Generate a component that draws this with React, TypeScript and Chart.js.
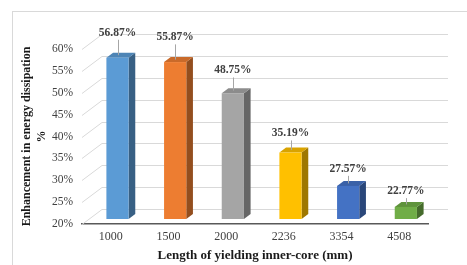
import React, { useEffect, useRef } from 'react';
import { Chart, registerables } from 'chart.js';

Chart.register(...registerables);

const categories = ['1000', '1500', '2000', '2236', '3354', '4508'];
const values = [56.87, 55.87, 48.75, 35.19, 27.57, 22.77];
const barColors = ['#5B9BD5', '#ED7D31', '#A5A5A5', '#FFC000', '#4472C4', '#70AD47'];
const yMin = 20;
const yMax = 60;
const yStep = 5;
const xTitle = 'Length of yielding inner-core (mm)';
const yTitle = ['Enhancement in energy dissipation', '%'];

const DX = 20;
const DY = -15;
const FONT = "'Liberation Serif', 'Times New Roman', serif";

function shade(hex: string, f: number): string {
  const n = parseInt(hex.slice(1), 16);
  const r = Math.round(((n >> 16) & 255) * f);
  const g = Math.round(((n >> 8) & 255) * f);
  const b = Math.round((n & 255) * f);
  return `rgb(${Math.min(255, r)},${Math.min(255, g)},${Math.min(255, b)})`;
}

const threeD = {
  id: 'threeD',
  beforeDraw(chart: any) {
    const ctx = chart.ctx;
    ctx.save();
    ctx.strokeStyle = '#d9d9d9';
    ctx.lineWidth = 1;
    ctx.strokeRect(12.5, 11.5, 600, 400);
    ctx.restore();
  },
  beforeDatasetsDraw(chart: any) {
    const ctx = chart.ctx;
    const { left, right } = chart.chartArea;
    const ys = chart.scales.y;
    ctx.save();
    // back wall gridlines + side wall diagonals
    ctx.strokeStyle = '#d9d9d9';
    ctx.lineWidth = 1;
    ys.ticks.forEach((t: any) => {
      const py = Math.round(ys.getPixelForValue(t.value)) + 0.5;
      ctx.beginPath();
      ctx.moveTo(left, py);
      ctx.lineTo(left + DX, py + DY);
      ctx.lineTo(right + DX, py + DY);
      ctx.stroke();
    });
    const sx = DX / 3;
    const sy = DY / 3;
    const floor = ys.getPixelForValue(yMin);
    const meta = chart.getDatasetMeta(0);
    const ds = chart.data.datasets[0];
    meta.data.forEach((bar: any, i: number) => {
      const p = bar.getProps(['x', 'y', 'width'], true);
      const color = barColors[i % barColors.length];
      const xl = p.x - p.width / 2 + sx;
      const xr = p.x + p.width / 2 + sx;
      const yt = p.y + sy;
      const yb = floor + sy;
      // side face
      ctx.fillStyle = shade(color, 0.62);
      ctx.beginPath();
      ctx.moveTo(xr, yt);
      ctx.lineTo(xr + sx, yt + sy);
      ctx.lineTo(xr + sx, yb + sy);
      ctx.lineTo(xr, yb);
      ctx.closePath();
      ctx.fill();
      // top face
      ctx.fillStyle = shade(color, 0.85);
      ctx.beginPath();
      ctx.moveTo(xl, yt);
      ctx.lineTo(xr, yt);
      ctx.lineTo(xr + sx, yt + sy);
      ctx.lineTo(xl + sx, yt + sy);
      ctx.closePath();
      ctx.fill();
      // front face
      ctx.fillStyle = color;
      ctx.fillRect(xl, yt, xr - xl, yb - yt);

      // data label with leader line
      const v = ds.data[i];
      const cx = (xl + xr) / 2;
      const off = 15 + (v - yMin) * 0.27;
      const ly = yt - off;
      const topCy = yt + sy / 2;
      if (topCy - (ly + 7) > 2) {
        ctx.strokeStyle = '#a6a6a6';
        ctx.lineWidth = 1;
        ctx.beginPath();
        ctx.moveTo(Math.round(cx) + 0.5, ly + 7);
        ctx.lineTo(Math.round(cx) + 0.5, topCy);
        ctx.stroke();
      }
      ctx.fillStyle = '#404040';
      ctx.font = `bold 11.5px ${FONT}`;
      ctx.textAlign = 'center';
      ctx.textBaseline = 'middle';
      ctx.fillText(v.toFixed(2) + '%', cx, ly);
    });
    ctx.restore();
    return false;
  },
};

export default function App() {
  const ref = useRef<HTMLCanvasElement>(null);
  useEffect(() => {
    if (!ref.current) return;
    Chart.defaults.font.family = FONT;
    const chart = new Chart(ref.current, {
      type: 'bar',
      data: {
        labels: categories,
        datasets: [
          {
            data: values,
            backgroundColor: barColors,
            categoryPercentage: 1,
            barPercentage: 0.385,
          },
        ],
      },
      options: {
        animation: false,
        responsive: false,
        devicePixelRatio: 1,
        layout: { padding: { left: 0, top: 49, right: 39, bottom: 0 } },
        plugins: { legend: { display: false }, tooltip: { enabled: false } },
        scales: {
          x: {
            grid: { display: false, drawTicks: false },
            border: { display: true, color: '#595959', width: 1.5 },
            ticks: { color: '#404040', font: { size: 12, family: FONT }, padding: 6 },
            title: {
              display: true,
              text: xTitle,
              color: '#1a1a1a',
              font: { size: 13, weight: 'bold', family: FONT, lineHeight: 1.2 },
              padding: { top: 0, bottom: 2 },
            },
            afterFit: (s: any) => {
              s.height = 41;
            },
          },
          y: {
            min: yMin,
            max: yMax,
            grid: { display: false, drawTicks: false },
            border: { display: false },
            ticks: {
              stepSize: yStep,
              color: '#404040',
              font: { size: 11.5, family: FONT },
              padding: 9,
              callback: (v: any) => v + '%',
            },
            title: {
              display: true,
              text: yTitle,
              color: '#1a1a1a',
              font: { size: 12, weight: 'bold', family: FONT, lineHeight: 1.25 },
              padding: { top: 19.5, bottom: 0 },
            },
            afterFit: (s: any) => {
              s.width = 82;
            },
          },
        },
      },
      plugins: [threeD],
    });
    return () => chart.destroy();
  }, []);
  return (
    <div style={{ position: 'fixed', left: 0, top: 0, width: 467, height: 265, background: '#fff' }}>
      <canvas ref={ref} width={467} height={265} style={{ display: 'block' }} />
    </div>
  );
}
